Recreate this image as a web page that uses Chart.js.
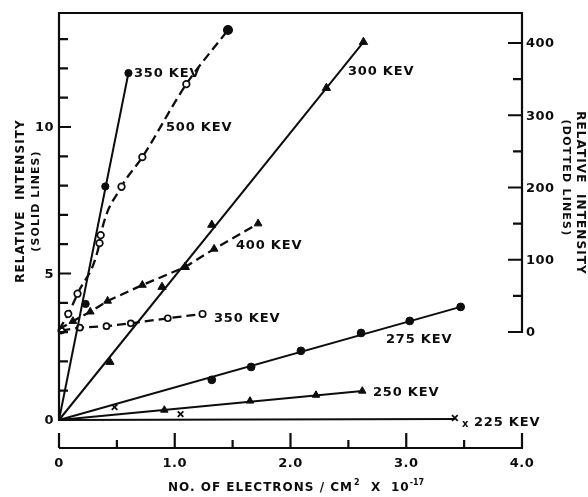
<!DOCTYPE html>
<html><head><meta charset="utf-8">
<script src="https://cdn.jsdelivr.net/npm/chart.js@4.4.0/dist/chart.umd.min.js"></script>
<style>html,body{margin:0;padding:0;background:#fff;} canvas{display:block;}</style>
</head><body>
<canvas id="c" width="588" height="497"></canvas>
<script>
// ---------- DATA ----------
// Solid lines (left axis, relative intensity)
const s350Line = [{x:0,y:0},{x:0.60,y:11.84}];
const s350Pts  = [{x:0.23,y:3.96},{x:0.40,y:7.97},{x:0.60,y:11.84}];
const s300Line = [{x:0,y:0},{x:2.63,y:12.9}];
const s300Pts  = [{x:0.44,y:1.98},{x:0.89,y:4.54},{x:1.09,y:5.22},{x:1.32,y:6.66},{x:2.31,y:11.33},{x:2.63,y:12.9}];
const s275Line = [{x:0,y:0},{x:3.47,y:3.86}];
const s275Pts  = [{x:1.32,y:1.37},{x:1.66,y:1.81},{x:2.09,y:2.36},{x:2.61,y:2.97},{x:3.03,y:3.38},{x:3.47,y:3.86}];
const s250Line = [{x:0,y:0},{x:2.62,y:0.99}];
const s250Pts  = [{x:0.91,y:0.34},{x:1.65,y:0.65},{x:2.22,y:0.85},{x:2.62,y:0.99}];
const s225Line = [{x:0,y:0},{x:3.42,y:0.03}];
const s225Pts  = [{x:0.48,y:0.44},{x:1.05,y:0.20},{x:3.42,y:0.07}];
// Dotted lines (right axis)
const d500 = [{x:0,y:3},{x:0.08,y:25},{x:0.16,y:53},{x:0.35,y:123},{x:0.36,y:134},{x:0.54,y:201},{x:0.72,y:242},{x:1.10,y:343},{x:1.46,y:418}];
const d400 = [{x:0,y:4},{x:0.12,y:15},{x:0.27,y:28},{x:0.42,y:43},{x:0.72,y:65},{x:1.09,y:90},{x:1.34,y:115},{x:1.72,y:150}];
const d350 = [{x:0.02,y:2},{x:0.18,y:6},{x:0.41,y:8},{x:0.62,y:12},{x:0.94,y:19},{x:1.24,y:25}];

const seriesNames = ["350 KEV","500 KEV","300 KEV","400 KEV","350 KEV","275 KEV","250 KEV","225 KEV"];

// Ticks
const xTickValues = [0,0.5,1,1.5,2,2.5,3,3.5,4];
const xTickLabels = ["0","1.0","2.0","3.0","4.0"];
const xLabelValues = [0,1,2,3,4];
const leftTickValues = [0,1,2,3,4,5,6,7,8,9,10,11,12,13];
const leftLabelValues = [0,5,10];
const rightTickValues = [0,50,100,150,200,250,300,350,400];
const rightLabelValues = [0,100,200,300,400];

// ---------- STYLE ----------
const INK = '#0d0d0d';
const FONT = '"DejaVu Sans", sans-serif';
const DASH = [9,5];

function solidLine(data){ return {data, yAxisID:'y', showLine:true, borderColor:INK, borderWidth:2, pointRadius:0, fill:false, clip:false}; }
function markers(data, style, r, open){ return {data, yAxisID:'y', showLine:false, pointStyle:style, pointRadius:r, pointHoverRadius:r,
  backgroundColor: open ? '#fff' : INK, borderColor:INK, borderWidth: open?1.6:1, clip:false}; }
function dashed(data, style, r, open, extra){ return Object.assign({data, yAxisID:'y2', showLine:true, borderColor:INK, borderWidth:2.3, borderDash:DASH,
  pointStyle:style, pointRadius:r, backgroundColor: open?'#fff':INK, pointBackgroundColor: open?'#fff':INK, pointBorderColor:INK, pointBorderWidth: open?1.7:1, fill:false, clip:false}, extra||{}); }

const datasets = [
  solidLine(s350Line), markers(s350Pts,'circle',3.6,false),
  solidLine(s300Line), markers(s300Pts,'triangle',4.8,false),
  solidLine(s275Line), markers(s275Pts,'circle',3.9,false),
  solidLine(s250Line), markers(s250Pts,'triangle',4.3,false),
  solidLine(s225Line), Object.assign(markers(s225Pts,'crossRot',4,false),{borderWidth:1.8}),
  dashed(d500,'circle',3.3,true,{
    cubicInterpolationMode:'monotone',
    pointRadius:(c)=> c.dataIndex===0?0:(c.dataIndex===d500.length-1?4.2:3.3),
    pointBackgroundColor:(c)=> c.dataIndex===d500.length-1?INK:'#fff'}),
  dashed(d400,'triangle',4.5,false,{pointRadius:(c)=> c.dataIndex===0?0:4.5}),
  dashed(d350,'circle',3,true,{pointRadius:(c)=> c.dataIndex===d350.length-1?3.2:3})
];

// Series label placement (pixels, left edge / vertical centre)
const labelPlacement = [
  {i:0, px:134, py:74}, {i:1, px:166, py:128}, {i:2, px:348, py:72}, {i:3, px:236, py:246},
  {i:4, px:214, py:319}, {i:5, px:386, py:340}, {i:6, px:373, py:393}, {i:7, px:474, py:423, xmark:true}
];

function text(ctx, s, x, y, size, align, ls, baseline){
  ctx.font = `bold ${size}px ${FONT}`;
  ctx.letterSpacing = (ls||0) + 'px';
  ctx.textAlign = align; ctx.textBaseline = baseline || 'middle';
  ctx.fillText(s, x, y);
}

const axesPlugin = {
  id:'axes',
  afterDatasetsDraw(chart){
    const {ctx, chartArea:a, scales:{x, y, y2}} = chart;
    ctx.save();
    ctx.strokeStyle = INK; ctx.fillStyle = INK; ctx.lineWidth = 2.2; ctx.lineCap='square';
    // frame
    ctx.beginPath();
    ctx.moveTo(a.left, a.bottom); ctx.lineTo(a.left, a.top); ctx.lineTo(a.right, a.top); ctx.lineTo(a.right, y2.getPixelForValue(0));
    ctx.stroke();
    ctx.lineCap='butt';
    // left ticks
    ctx.beginPath();
    leftTickValues.forEach(v=>{ const p=y.getPixelForValue(v); ctx.moveTo(a.left,p); ctx.lineTo(a.left+(v%5===0?12:9),p); });
    // right ticks
    rightTickValues.forEach(v=>{ const p=y2.getPixelForValue(v); ctx.moveTo(a.right,p); ctx.lineTo(a.right-(v%100===0?14:9),p); });
    ctx.stroke();
    leftLabelValues.forEach(v=> text(ctx, String(v), a.left-5, y.getPixelForValue(v)+1, 13, 'right', 0.5));
    rightLabelValues.forEach(v=> text(ctx, String(v), a.right+4, y2.getPixelForValue(v)+1, 13, 'left', 0.5));
    // detached bottom axis
    const by = a.bottom + 28;
    ctx.beginPath();
    ctx.moveTo(x.getPixelForValue(0), by); ctx.lineTo(x.getPixelForValue(4)+1, by);
    xTickValues.forEach(v=>{ const p=x.getPixelForValue(v); ctx.moveTo(p,by); ctx.lineTo(p, by-(Number.isInteger(v)?15:8)); });
    ctx.stroke();
    xLabelValues.forEach((v,k)=> text(ctx, xTickLabels[k], x.getPixelForValue(v), by+16, 13, 'center', 0.5));
    // x title
    let tx = 168; const ty = 488;
    ctx.font = `bold 12px ${FONT}`; ctx.letterSpacing='1px';
    text(ctx, "NO. OF ELECTRONS / CM", tx, ty, 12, 'left', 1);
    tx += ctx.measureText("NO. OF ELECTRONS / CM").width + 1;
    text(ctx, "2", tx, ty-5, 8, 'left', 0);
    tx += 17;
    text(ctx, "X", tx, ty, 12, 'left', 1);
    tx += 20;
    text(ctx, "10", tx, ty, 12, 'left', 1);
    ctx.font = `bold 12px ${FONT}`; ctx.letterSpacing='1px';
    tx += ctx.measureText("10").width;
    text(ctx, "-17", tx, ty-5, 8, 'left', 0);
    // left y title
    ctx.save(); ctx.translate(21, 201); ctx.rotate(-Math.PI/2);
    text(ctx, "RELATIVE  INTENSITY", 0, 0, 12, 'center', 1.1);
    ctx.restore();
    ctx.save(); ctx.translate(36, 201); ctx.rotate(-Math.PI/2);
    text(ctx, "(SOLID LINES)", 0, 0, 11, 'center', 1.1);
    ctx.restore();
    // right y title
    ctx.save(); ctx.translate(580, 193); ctx.rotate(Math.PI/2);
    text(ctx, "RELATIVE  INTENSITY", 0, 0, 12, 'center', 1.1);
    ctx.restore();
    ctx.save(); ctx.translate(566, 178); ctx.rotate(Math.PI/2);
    text(ctx, "(DOTTED LINES)", 0, 0, 11, 'center', 1.2);
    ctx.restore();
    // series labels
    labelPlacement.forEach(l=>{
      if (l.xmark) text(ctx, "x", l.px-12, l.py+1, 10, 'left', 0);
      text(ctx, seriesNames[l.i], l.px, l.py, 13, 'left', 0.8);
    });
    ctx.restore();
  }
};

new Chart(document.getElementById('c'), {
  type:'scatter',
  data:{datasets},
  options:{
    responsive:false, animation:false, devicePixelRatio:1,
    layout:{padding:{left:59, right:66, top:13, bottom:77}},
    plugins:{legend:{display:false}, tooltip:{enabled:false}},
    scales:{
      x:{type:'linear', min:0, max:4, display:false},
      y:{type:'linear', min:0, max:13.89, display:false},
      y2:{type:'linear', min:-121.8, max:441.5, display:false}
    }
  },
  plugins:[axesPlugin]
});
</script>
</body></html>
